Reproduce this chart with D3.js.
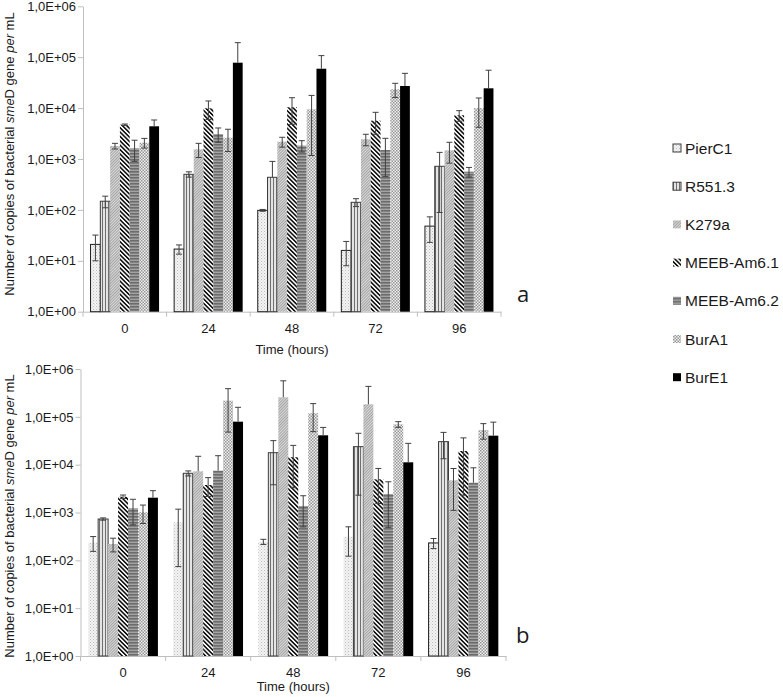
<!DOCTYPE html>
<html>
<head>
<meta charset="utf-8">
<script src="https://cdn.jsdelivr.net/npm/d3@7"></script>
<style>
  html, body { margin: 0; padding: 0; background: #fff; }
  svg { display: block; font-family: "Liberation Sans", Arial, sans-serif; }
</style>
</head>
<body>
<svg id="chart" width="783" height="697"></svg>
<script>
// ---------- DATA ----------
const timeLabels = ["0", "24", "48", "72", "96"];
const strains = ["PierC1", "R551.3", "K279a", "MEEB-Am6.1", "MEEB-Am6.2", "BurA1", "BurE1"];
const yTickValues = [1, 10, 100, 1000, 10000, 100000, 1000000];
const yTickLabels = ["1,0E+00", "1,0E+01", "1,0E+02", "1,0E+03", "1,0E+04", "1,0E+05", "1,0E+06"];

// panel a: one row per strain, one column per time point
const meanA = [
  [21, 17, 98, 16, 48],
  [148, 500, 437, 141, 719],
  [1800, 1550, 2190, 2440, 1480],
  [4720, 9900, 10400, 5660, 7210],
  [1620, 3100, 1830, 1500, 563],
  [2090, 2620, 9470, 23400, 10000],
  [4390, 78000, 59400, 27200, 24500]
];
const errA = [
  [11, 3.5, 4, 8, 25],
  [38, 60, 460, 25, 630],
  [230, 480, 480, 620, 650],
  [150, 3900, 5600, 2600, 1700],
  [720, 970, 460, 1050, 120],
  [450, 1220, 8300, 7300, 5800],
  [1450, 115000, 48000, 21000, 31000]
];
// panel b
const meanB = [
  [234, 624, 245, 312, 231],
  [731, 6600, 17800, 23800, 30300],
  [220, 7260, 256000, 183000, 4710],
  [2140, 3760, 14300, 4940, 19300],
  [1220, 7500, 1370, 2440, 4200],
  [1010, 218000, 119000, 69800, 53100],
  [2040, 79200, 41100, 11200, 40400]
];
const errB = [
  [80, 550, 30, 190, 55],
  [40, 800, 14000, 21500, 17000],
  [70, 7700, 310000, 250000, 3600],
  [180, 1600, 11000, 3400, 17000],
  [670, 7900, 870, 1950, 4400],
  [420, 170000, 70000, 9500, 19000],
  [820, 79000, 19000, 16700, 37000]
];

// ---------- PATTERNS ----------
const svg = d3.select("#chart");
const defs = svg.append("defs");

function pat(id, w, h, transform) {
  const p = defs.append("pattern").attr("id", id).attr("patternUnits", "userSpaceOnUse")
    .attr("width", w).attr("height", h);
  if (transform) p.attr("patternTransform", transform);
  return p;
}
// PierC1 - light stipple
let p = pat("p0", 3, 3);
p.append("rect").attr("width", 3).attr("height", 3).attr("fill", "#f3f3f3");
p.append("rect").attr("x", 0).attr("y", 0).attr("width", 1).attr("height", 1).attr("fill", "#bcbcbc");
p.append("rect").attr("x", 1.5).attr("y", 1.5).attr("width", 1).attr("height", 1).attr("fill", "#d0d0d0");
// R551.3 - vertical stripes
p = pat("p1", 3, 3);
p.append("rect").attr("width", 3).attr("height", 3).attr("fill", "#e4e4e4");
p.append("rect").attr("x", 0).attr("width", 1).attr("height", 3).attr("fill", "#6f6f6f");
// K279a - fine diagonal texture
p = pat("p2", 2, 2, "rotate(45)");
p.append("rect").attr("width", 2).attr("height", 2).attr("fill", "#dadada");
p.append("rect").attr("width", 1).attr("height", 2).attr("fill", "#a4a4a4");
// MEEB-Am6.1 - bold "\" stripes
p = pat("p3", 3.1, 3.1, "rotate(-45)");
p.append("rect").attr("width", 3.1).attr("height", 3.1).attr("fill", "#ffffff");
p.append("rect").attr("width", 1.6).attr("height", 3.1).attr("fill", "#111111");
// MEEB-Am6.2 - horizontal stripes
p = pat("p4", 3, 3);
p.append("rect").attr("width", 3).attr("height", 3).attr("fill", "#a3a3a3");
p.append("rect").attr("width", 3).attr("height", 1.6).attr("fill", "#6c6c6c");
// BurA1 - checker
p = pat("p5", 3, 3);
p.append("rect").attr("width", 3).attr("height", 3).attr("fill", "#efefef");
p.append("rect").attr("width", 1.5).attr("height", 1.5).attr("fill", "#979797");
p.append("rect").attr("x", 1.5).attr("y", 1.5).attr("width", 1.5).attr("height", 1.5).attr("fill", "#979797");

const fills = ["url(#p0)", "url(#p1)", "url(#p2)", "url(#p3)", "url(#p4)", "url(#p5)", "#000000"];
const axisColor = "#bfbfbf";
const errColor = "#404040";

// ---------- PANELS ----------
const panels = [
  { means: meanA, errs: errA, x0: 83, x1: 501, yTop: 6.3, yBot: 311.7, tag: "a", tagX: 517, tagY: 302,
    titleY: 354, yTitleMid: 154, pierBorder: () => true },
  { means: meanB, errs: errB, x0: 80.5, x1: 506, yTop: 369, yBot: 656, tag: "b", tagX: 516, tagY: 643,
    titleY: 691, yTitleMid: 516, pierBorder: (j) => j === 4 }
];

panels.forEach(P => {
  const g = svg.append("g");
  const x = d3.scaleBand().domain(timeLabels).range([P.x0, P.x1]).padding(0);
  const xs = d3.scaleBand().domain(strains).range([0, x.bandwidth()]).paddingInner(0).paddingOuter(0.77);
  const y = d3.scaleLog().domain([1, 1e6]).range([P.yBot, P.yTop]);

  // y axis
  const ya = g.append("g").attr("transform", `translate(${P.x0},0)`)
    .call(d3.axisLeft(y).tickValues(yTickValues).tickFormat((d, i) => yTickLabels[i])
      .tickSize(5).tickSizeOuter(0).tickPadding(2));
  ya.select(".domain").attr("stroke", axisColor);
  ya.selectAll(".tick line").attr("stroke", axisColor);
  ya.selectAll(".tick text").attr("font-size", 13).attr("fill", "#1a1a1a")
    .attr("font-family", "'Liberation Sans', Arial, sans-serif");

  // x axis
  const xa = g.append("g").attr("transform", `translate(0,${P.yBot})`)
    .call(d3.axisBottom(x).tickSize(0).tickSizeOuter(0).tickPadding(12));
  xa.select(".domain").attr("stroke", axisColor);
  xa.selectAll(".tick text").attr("font-size", 13).attr("fill", "#1a1a1a")
    .attr("font-family", "'Liberation Sans', Arial, sans-serif");
  // boundary ticks
  const bounds = timeLabels.map(t => x(t)).concat([x(timeLabels[timeLabels.length - 1]) + x.bandwidth()]);
  g.selectAll("line.sep").data(bounds).enter().append("line")
    .attr("x1", d => d).attr("x2", d => d).attr("y1", P.yBot).attr("y2", P.yBot + 5)
    .attr("stroke", axisColor);

  // bars
  strains.forEach((s, i) => {
    const bars = g.append("g");
    timeLabels.forEach((t, j) => {
      const v = P.means[i][j];
      const bx = x(t) + xs(s);
      const bw = xs.bandwidth();
      const r = bars.append("rect")
        .attr("x", bx).attr("y", y(v)).attr("width", bw).attr("height", y(1) - y(v))
        .attr("fill", fills[i]);
      if (i === 1) r.attr("stroke", "#3c3c3c").attr("stroke-width", 1);
      if (i === 0 && P.pierBorder(j)) r.attr("stroke", "#1e1e1e").attr("stroke-width", 1);
    });
  });

  // error bars (lower half on the solid black bars is hidden, as in the original)
  strains.forEach((s, i) => {
    timeLabels.forEach((t, j) => {
      const v = P.means[i][j], e = P.errs[i][j];
      const cx = x(t) + xs(s) + xs.bandwidth() / 2;
      const hi = y(v + e);
      const hasLow = v - e > 0 && i !== 6;
      const lo = hasLow ? y(v - e) : y(v);
      g.append("line").attr("x1", cx).attr("x2", cx).attr("y1", hi).attr("y2", lo)
        .attr("stroke", errColor).attr("stroke-width", 1);
      g.append("line").attr("x1", cx - 3).attr("x2", cx + 3).attr("y1", hi).attr("y2", hi)
        .attr("stroke", errColor).attr("stroke-width", 1);
      if (hasLow) g.append("line").attr("x1", cx - 3).attr("x2", cx + 3).attr("y1", lo).attr("y2", lo)
        .attr("stroke", errColor).attr("stroke-width", 1);
    });
  });

  // x title
  g.append("text").attr("x", (P.x0 + P.x1) / 2).attr("y", P.titleY).attr("text-anchor", "middle")
    .attr("font-size", 13).attr("fill", "#1a1a1a").text("Time (hours)");

  // y title
  const yt = g.append("text").attr("transform", `translate(13.5,${P.yTitleMid}) rotate(-90)`)
    .attr("text-anchor", "middle").attr("font-size", 13).attr("fill", "#1a1a1a");
  yt.append("tspan").text("Number of copies of bacterial ");
  yt.append("tspan").attr("font-style", "italic").text("sme");
  yt.append("tspan").text("D gene ");
  yt.append("tspan").attr("font-style", "italic").text("per");
  yt.append("tspan").text(" mL");

  // panel tag
  g.append("text").attr("x", P.tagX).attr("y", P.tagY).attr("font-size", 22)
    .attr("font-family", "'Open Sans', 'Liberation Sans', sans-serif").attr("fill", "#1a1a1a").text(P.tag);
});

// ---------- LEGEND ----------
const lg = svg.append("g").attr("transform", "translate(673,148)");
const legendStep = 38.2;
strains.forEach((s, i) => {
  const row = lg.append("g").attr("transform", `translate(0,${i * legendStep})`);
  const sw = row.append("rect").attr("x", 0).attr("y", -4).attr("width", 8).attr("height", 8).attr("fill", fills[i]);
  if (i <= 1) sw.attr("stroke", "#3c3c3c").attr("stroke-width", 1);
  row.append("text").attr("x", 12).attr("y", 0).attr("dy", "0.36em").attr("font-size", 15.5)
    .attr("fill", "#1a1a1a").text(s);
});
</script>
</body>
</html>
